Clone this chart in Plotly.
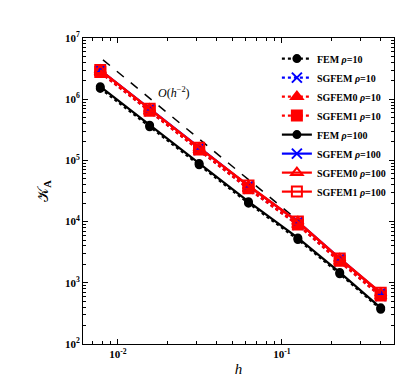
import numpy as np
import plotly.graph_objects as go

# mesh sizes and condition numbers
h = [0.0078, 0.0156, 0.03125, 0.0625, 0.125, 0.225, 0.40]

fem_rho10 = [1.50e6, 3.55e5, 8.5e4, 2.0e4, 5.1e3, 1.40e3, 370]
sgfem_rho10 = [2.75e6, 6.4e5, 1.48e5, 3.45e4, 8.9e3, 2.25e3, 610]
sgfem0_rho10 = [2.72e6, 6.3e5, 1.46e5, 3.4e4, 8.8e3, 2.2e3, 600]
sgfem1_rho10 = [2.78e6, 6.5e5, 1.50e5, 3.5e4, 9.0e3, 2.3e3, 620]

fem_rho100 = [1.60e6, 3.75e5, 8.9e4, 2.12e4, 5.4e3, 1.48e3, 390]
sgfem_rho100 = [3.0e6, 7.0e5, 1.60e5, 3.85e4, 1.0e4, 2.5e3, 680]
sgfem0_rho100 = [2.95e6, 6.9e5, 1.58e5, 3.8e4, 9.9e3, 2.45e3, 670]
sgfem1_rho100 = [3.0e6, 7.0e5, 1.61e5, 3.9e4, 1.0e4, 2.5e3, 690]

# reference slope O(h^-2)
ref_h = [0.0081, 0.12]
ref_k = [4.4e6, 1.15e4]

x_ticks = [0.01, 0.1]
x_ticktext = ["<b>10<sup>-2</sup></b>", "<b>10<sup>-1</sup></b>"]
y_ticks = [1e2, 1e3, 1e4, 1e5, 1e6, 1e7]
y_ticktext = ["<b>10<sup>%d</sup></b>" % k for k in range(2, 8)]

series = [
    ("FEM <i>ρ</i>=10", fem_rho10, "black", "dot", "circle"),
    ("SGFEM <i>ρ</i>=10", sgfem_rho10, "blue", "dot", "x-thin"),
    ("SGFEM0 <i>ρ</i>=10", sgfem0_rho10, "red", "dot", "triangle-up"),
    ("SGFEM1 <i>ρ</i>=10", sgfem1_rho10, "red", "dot", "square"),
    ("FEM <i>ρ</i>=100", fem_rho100, "black", "solid", "circle"),
    ("SGFEM <i>ρ</i>=100", sgfem_rho100, "blue", "solid", "x-thin"),
    ("SGFEM0 <i>ρ</i>=100", sgfem0_rho100, "red", "solid", "triangle-up-open"),
    ("SGFEM1 <i>ρ</i>=100", sgfem1_rho100, "red", "solid", "square-open"),
]

fig = go.Figure()

fig.add_trace(go.Scatter(x=ref_h, y=ref_k, mode="lines", showlegend=False,
                         line=dict(color="black", width=1.5, dash="dash")))

for name, vals, color, dash, symbol in series:
    size = 7 if symbol == "circle" else 10
    fig.add_trace(go.Scatter(
        x=h, y=vals, mode="lines+markers", name="<b>%s</b>" % name,
        line=dict(color=color, width=2.2, dash=dash),
        marker=dict(symbol=symbol, size=size, color=color,
                    line=dict(color=color, width=2)),
    ))

fig.add_annotation(x=np.log10(0.022), y=np.log10(1.3e6), text="<i>O</i>(<i>h</i><sup>−2</sup>)",
                   showarrow=False, font=dict(size=12, color="black", family="Liberation Serif"))

axis_common = dict(type="log", showline=True, linecolor="black", linewidth=1, mirror="allticks",
                   ticks="inside", ticklen=5, tickcolor="black", showgrid=False, zeroline=False,
                   minor=dict(ticks="inside", ticklen=3, tickcolor="black", dtick="D1", showgrid=False),
                   tickfont=dict(family="Liberation Serif", size=11, color="black"))

fig.update_xaxes(range=[np.log10(0.00612), np.log10(0.482)], tickvals=x_ticks, ticktext=x_ticktext,
                 title=dict(text="<i>h</i>", font=dict(family="Liberation Serif", size=15), standoff=4),
                 **axis_common)
fig.update_yaxes(range=[2, 7], tickvals=y_ticks, ticktext=y_ticktext,
                 title=dict(text="𝒦<sub><b>A</b></sub>", font=dict(family="Liberation Serif", size=15), standoff=12),
                 **axis_common)

fig.update_layout(
    width=413, height=379,
    margin=dict(l=75, r=27, t=30, b=39),
    plot_bgcolor="white", paper_bgcolor="white",
    font=dict(family="Liberation Serif", color="black"),
    legend=dict(x=0.99, y=0.98, xanchor="right", yanchor="top", bgcolor="rgba(255,255,255,0)",
                font=dict(size=10, family="Liberation Serif"), itemwidth=30,
                tracegroupgap=0),
)

fig.write_html("out.html")
